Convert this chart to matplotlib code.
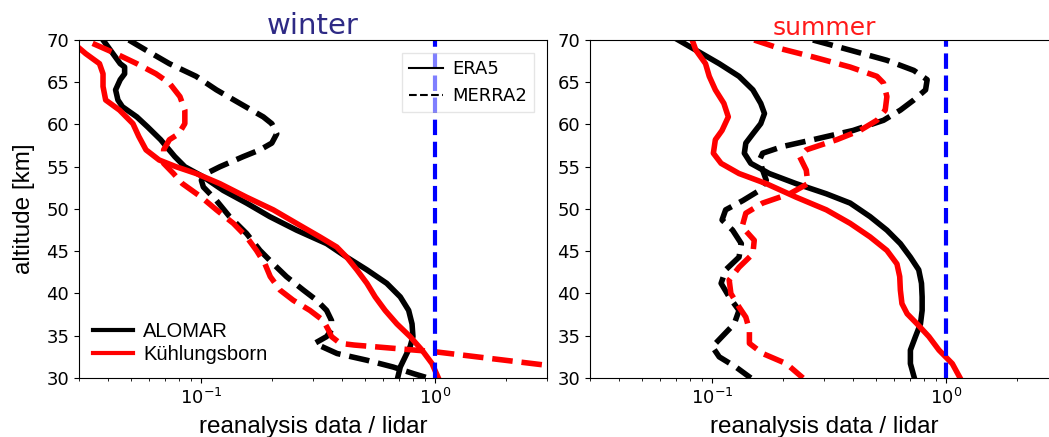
import numpy as np
import matplotlib
matplotlib.use("Agg")
import matplotlib.pyplot as plt
from matplotlib.lines import Line2D

# ---------------- data ----------------
# Winter
w_alo_era_alt = [70.0, 67.2, 66.8, 66.0, 65.3, 64.1, 62.9, 62.1, 60.9, 59.7, 58.2, 56.2, 55.0, 53.8,
                 52.2, 50.7, 49.1, 47.5, 45.9, 44.3, 42.8, 41.2, 39.6, 38.0, 36.4, 34.9, 33.7,
                 32.5, 31.3, 30.0]
w_alo_era_val = [0.038, 0.045, 0.047, 0.047, 0.045, 0.043, 0.044, 0.046, 0.053, 0.059, 0.067, 0.077,
                 0.085, 0.102, 0.124, 0.156, 0.196, 0.255, 0.343, 0.418, 0.51, 0.62, 0.708, 0.769,
                 0.795, 0.802, 0.78, 0.743, 0.708, 0.69]

w_alo_mer_alt = [70.0, 68.8, 67.2, 65.7, 64.1, 62.5, 60.9, 60.1, 58.9, 57.8, 57.0, 56.2, 55.0, 54.2,
                 53.4, 52.6, 51.0, 49.1, 47.1, 45.1, 43.5, 42.0, 40.4, 39.2, 38.0, 36.8, 35.7,
                 34.9, 34.1, 32.9, 32.1, 31.3, 30.5, 30.0]
w_alo_mer_val = [0.049, 0.058, 0.073, 0.095, 0.116, 0.146, 0.184, 0.2, 0.21, 0.2, 0.178, 0.151, 0.12,
                 0.105, 0.1, 0.102, 0.116, 0.132, 0.156, 0.178, 0.203, 0.231, 0.273, 0.311, 0.343,
                 0.36, 0.36, 0.343, 0.305, 0.38, 0.51, 0.66, 0.81, 0.93]

w_kub_era_alt = [69.6, 69.2, 68.4, 67.2, 66.0, 64.5, 62.9, 61.7, 60.1, 58.6, 57.0, 55.8, 55.0, 54.2,
                 53.0, 51.4, 49.9, 48.3, 46.7, 45.5, 44.3, 42.8, 41.2, 39.6, 38.0, 36.4, 34.9,
                 33.3, 31.7, 30.0]
w_kub_era_val = [0.028, 0.0296, 0.032, 0.0367, 0.038, 0.038, 0.039, 0.0447, 0.051, 0.054, 0.058,
                 0.066, 0.078, 0.095, 0.12, 0.156, 0.203, 0.255, 0.321, 0.379, 0.418, 0.462, 0.51,
                 0.553, 0.61, 0.685, 0.78, 0.877, 0.968, 1.03]

w_kub_mer_alt = [69.6, 68.4, 67.2, 66.0, 64.9, 63.3, 61.7, 60.1, 58.9, 58.2, 57.0, 55.4, 54.2, 53.0,
                 51.4, 49.9, 48.3, 46.7, 45.1, 43.5, 42.0, 40.4, 39.2, 38.0, 36.8, 35.7, 34.9,
                 34.1, 33.9, 33.1, 31.5, 30.8]
w_kub_mer_val = [0.0343, 0.043, 0.053, 0.064, 0.073, 0.081, 0.085, 0.085, 0.08, 0.073, 0.069, 0.069,
                 0.076, 0.083, 0.1, 0.116, 0.137, 0.156, 0.172, 0.187, 0.197, 0.217, 0.247, 0.291,
                 0.332, 0.349, 0.36, 0.392, 0.45, 1.0, 3.0, 4.5]

# Summer
s_alo_era_alt = [70.2, 68.8, 67.2, 65.7, 64.1, 62.5, 61.3, 60.1, 58.9, 57.8, 56.6, 55.4, 54.2, 53.0,
                 51.8, 50.7, 49.1, 47.5, 45.9, 44.3, 42.8, 41.2, 39.6, 38.0, 36.4, 34.9, 33.3,
                 31.7, 30.0]
s_alo_era_val = [0.0695, 0.085, 0.107, 0.13, 0.149, 0.161, 0.167, 0.161, 0.149, 0.139, 0.137, 0.146,
                 0.175, 0.228, 0.307, 0.388, 0.472, 0.557, 0.636, 0.702, 0.762, 0.783, 0.788, 0.788,
                 0.775, 0.738, 0.702, 0.702, 0.73]

s_kub_era_alt = [70.0, 68.8, 67.2, 65.7, 64.1, 62.5, 60.9, 59.3, 58.2, 56.6, 55.4, 54.2, 53.0, 51.4,
                 49.9, 48.3, 46.7, 45.1, 43.5, 42.0, 40.4, 38.8, 37.6, 36.4, 34.9, 33.3, 31.7, 30.0]
s_kub_era_val = [0.082, 0.085, 0.0935, 0.097, 0.103, 0.112, 0.117, 0.11, 0.103, 0.101, 0.109, 0.13,
                 0.17, 0.228, 0.307, 0.388, 0.472, 0.557, 0.615, 0.632, 0.636, 0.646, 0.68, 0.75,
                 0.842, 0.93, 1.06, 1.145]

s_alo_mer_alt = [70.0, 68.8, 67.6, 66.4, 65.3, 64.1, 62.9, 61.7, 60.5, 59.3, 58.2, 57.4, 56.6, 55.8,
                 54.6, 53.4, 52.2, 51.0, 49.9, 48.7, 47.5, 45.9, 44.3, 42.8, 41.2, 39.6, 38.0,
                 36.4, 34.9, 33.7, 32.5, 31.3, 30.0]
s_alo_mer_val = [0.269, 0.388, 0.557, 0.726, 0.828, 0.815, 0.726, 0.636, 0.539, 0.4, 0.269, 0.2,
                 0.164, 0.159, 0.164, 0.17, 0.159, 0.135, 0.114, 0.11, 0.122, 0.133, 0.13, 0.114,
                 0.109, 0.118, 0.13, 0.124, 0.11, 0.1, 0.107, 0.126, 0.146]

s_kub_mer_alt = [70.0, 69.0, 68.0, 66.8, 65.7, 64.9, 63.3, 61.7, 60.5, 59.3, 58.2, 57.0, 56.2, 54.6,
                 53.0, 51.8, 50.7, 49.5, 47.9, 46.3, 44.7, 43.1, 41.6, 40.0, 38.4, 37.2, 35.7,
                 34.1, 32.9, 31.7, 30.0]
s_kub_mer_val = [0.151, 0.194, 0.269, 0.388, 0.505, 0.539, 0.557, 0.548, 0.505, 0.428, 0.34, 0.252,
                 0.236, 0.252, 0.256, 0.214, 0.164, 0.139, 0.134, 0.151, 0.149, 0.13, 0.118, 0.12,
                 0.13, 0.139, 0.144, 0.144, 0.164, 0.207, 0.244]

alt_ticks = [30, 35, 40, 45, 50, 55, 60, 65, 70]
station_names = ["ALOMAR", "Kühlungsborn"]
dataset_names = ["ERA5", "MERRA2"]

# ---------------- plot ----------------
W, H = 1049, 437
fig = plt.figure(figsize=(W / 100, H / 100), dpi=100)
ax1 = fig.add_axes([79 / W, 59 / H, 468 / W, 338 / H])
ax2 = fig.add_axes([590 / W, 59 / H, 468 / W, 338 / H])

LW = 4
label_font = dict(family=["Liberation Sans", "DejaVu Sans"], size=17.5)

def draw(ax, ae, ae_v, am, am_v, ke, ke_v, km, km_v):
    ax.plot(ae_v, ae, color="black", lw=LW, ls="-")
    ax.plot(am_v, am, color="black", lw=LW, ls="--")
    ax.plot(ke_v, ke, color="red", lw=LW, ls="-")
    ax.plot(km_v, km, color="red", lw=LW, ls="--")
    ax.axvline(1.0, color="blue", lw=3, ls="--")
    ax.set_xscale("log")
    ax.set_xlim(0.03, 3)
    ax.set_ylim(30, 70)
    ax.set_yticks(alt_ticks)
    ax.tick_params(labelsize=13)
    ax.set_xlabel("reanalysis data / lidar", labelpad=6, **label_font)

draw(ax1, w_alo_era_alt, w_alo_era_val, w_alo_mer_alt, w_alo_mer_val,
     w_kub_era_alt, w_kub_era_val, w_kub_mer_alt, w_kub_mer_val)
draw(ax2, s_alo_era_alt, s_alo_era_val, s_alo_mer_alt, s_alo_mer_val,
     s_kub_era_alt, s_kub_era_val, s_kub_mer_alt, s_kub_mer_val)

ax1.set_ylabel("altitude [km]", labelpad=8, **label_font)
ax1.set_title("winter", color="#2e2a85", fontsize=21, pad=2)
ax2.set_title("summer", color="#ff1a1a", fontsize=18, pad=3)

# legends
style_handles = [Line2D([], [], color="black", lw=1.5, ls="-"),
                 Line2D([], [], color="black", lw=1.5, ls="--")]
leg1 = ax1.legend(style_handles, dataset_names, loc="upper right", fontsize=13,
                  fancybox=False, framealpha=0.5, borderaxespad=0.7, handlelength=1.9,
                  handletextpad=0.5)
ax1.add_artist(leg1)
color_handles = [Line2D([], [], color="black", lw=3),
                 Line2D([], [], color="red", lw=3)]
ax1.legend(color_handles, station_names, loc="lower left", frameon=False,
           prop=dict(family=["Liberation Sans", "DejaVu Sans"], size=14.5),
           handlelength=2.0, handletextpad=0.5, borderaxespad=0.3, labelspacing=0.2)

fig.savefig("out.png", dpi=100)
